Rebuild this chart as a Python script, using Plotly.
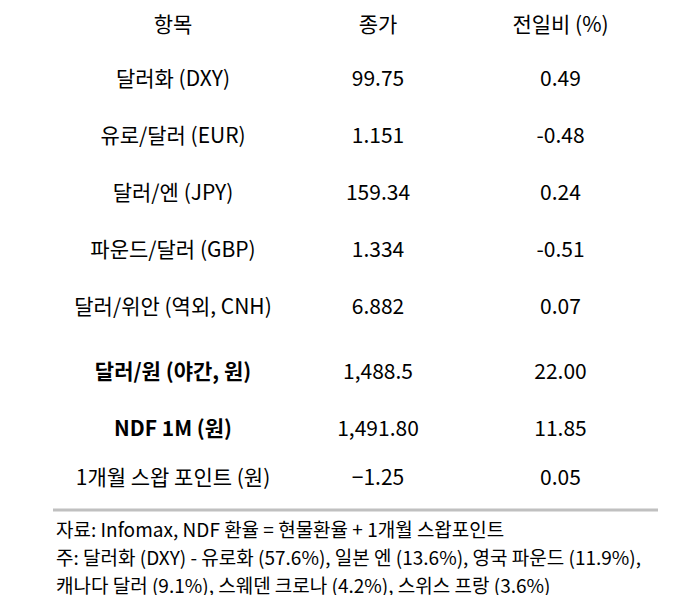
import plotly.graph_objects as go

headers = ["항목", "종가", "전일비 (%)"]
items = ["달러화 (DXY)", "유로/달러 (EUR)", "달러/엔 (JPY)", "파운드/달러 (GBP)",
         "달러/위안 (역외, CNH)", "<b>달러/원 (야간, 원)</b>", "<b>NDF 1M (원)</b>", "1개월 스왑 포인트 (원)"]
close = ["99.75", "1.151", "159.34", "1.334", "6.882", "<b></b>1,488.5", "<b></b>1,491.80", "−1.25"]
change = ["0.49", "-0.48", "0.24", "-0.51", "0.07", "<b></b>22.00", "<b></b>11.85", "0.05"]
notes = ["자료: Infomax, NDF 환율 = 현물환율 + 1개월 스왑포인트",
         "주: 달러화 (DXY) - 유로화 (57.6%), 일본 엔 (13.6%), 영국 파운드 (11.9%),",
         "캐나다 달러 (9.1%), 스웨덴 크로나 (4.2%), 스위스 프랑 (3.6%)"]

font = "Noto Sans CJK KR"
fig = go.Figure(go.Table(
    domain=dict(x=[45/693, 650/693], y=[0, 1]),
    columnwidth=[240, 170, 195],
    header=dict(values=headers, height=54, align="center",
                fill_color="white", line_color="white",
                font=dict(family=font, size=21, color="black")),
    cells=dict(values=[items, close, change], height=57, align="center",
               fill_color="white", line_color="white",
               font=dict(family=font, size=21, color="black")),
))

fig.add_shape(type="line", xref="paper", yref="paper", x0=45/693, x1=650/693,
              y0=1-502/595, y1=1-502/595, line=dict(color="#c0c0c0", width=3))
for i, t in enumerate(notes):
    fig.add_annotation(text=t, xref="paper", yref="paper", x=46/693, y=1-(520+28*i)/595,
                       xanchor="left", yanchor="middle", showarrow=False,
                       font=dict(family=font, size=19, color="black"))

fig.update_layout(width=693, height=595, margin=dict(l=0, r=0, t=0, b=0),
                  paper_bgcolor="white", plot_bgcolor="white")
fig.write_html("out.html")
